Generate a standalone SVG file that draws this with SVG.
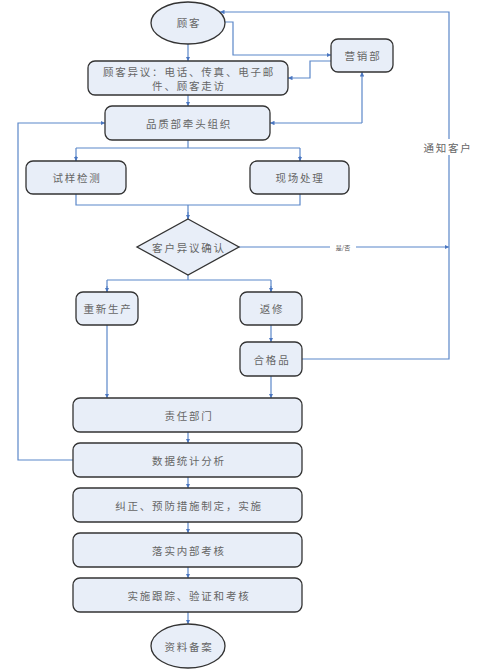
<svg xmlns="http://www.w3.org/2000/svg" width="482" height="671" viewBox="0 0 482 671">
<style>
.n{fill:#E8EEF8;stroke:#333;stroke-width:1.3}
.t{font-family:"Noto Sans CJK SC","Noto Sans",sans-serif;font-size:10.5px;fill:#666;letter-spacing:1.8px;text-anchor:middle;dominant-baseline:central}
.c{fill:none;stroke:#5B87C9;stroke-width:1.2}
.cl{fill:none;stroke:#8FAEDB;stroke-width:1.5}
</style>
<defs>
<marker id="a" viewBox="0 0 8 8" refX="8" refY="4" markerWidth="4.5" markerHeight="4.5" orient="auto" markerUnits="userSpaceOnUse"><path d="M0,0L8,4L0,8z" fill="#4A76C0"/></marker>
</defs>
<rect width="482" height="671" fill="#fff"/>
<g id="connectors">
<path class="c" d="M188,44V61" marker-end="url(#a)"/>
<path class="c" d="M224,22H233V55H331" marker-end="url(#a)"/>
<path class="c" d="M331,61H310V78H288" marker-end="url(#a)"/>
<path class="c" d="M188,95V106" marker-end="url(#a)"/>
<path class="c" d="M362,123V72" marker-end="url(#a)"/>
<path class="c" d="M362,123H270" marker-end="url(#a)"/>
<path class="c" d="M188,140V148M76,148H300M76,148V161M300,148V161"/>
<path class="c" d="M76,156V161" marker-end="url(#a)"/>
<path class="c" d="M300,156V161" marker-end="url(#a)"/>
<path class="c" d="M76,194V205H300V194M188,205V219"/>
<path class="c" d="M188,212V219" marker-end="url(#a)"/>
<path class="cl" d="M239,247H449" marker-end="url(#a)"/>
<path class="c" d="M188,275V280M107,280H271M107,280V292M271,280V292"/>
<path class="c" d="M107,286V292" marker-end="url(#a)"/>
<path class="c" d="M271,286V292" marker-end="url(#a)"/>
<path class="c" d="M271,325V342" marker-end="url(#a)"/>
<path class="c" d="M302,359H449V12H220" marker-end="url(#a)"/>
<path class="c" d="M107,325V398" marker-end="url(#a)"/>
<path class="c" d="M271,376V398" marker-end="url(#a)"/>
<path class="c" d="M188,432V443" marker-end="url(#a)"/>
<path class="c" d="M73,460H18V123H105" marker-end="url(#a)"/>
<path class="c" d="M188,477V488" marker-end="url(#a)"/>
<path class="c" d="M188,522V533" marker-end="url(#a)"/>
<path class="c" d="M188,567V578" marker-end="url(#a)"/>
<path class="c" d="M188,612V624" marker-end="url(#a)"/>
<rect x="330" y="243" width="26" height="8" fill="#fff"/>
<text x="343" y="247.5" font-family="Noto Sans CJK SC,sans-serif" font-size="6" fill="#555" text-anchor="middle" dominant-baseline="central">是/否</text>
<rect x="421" y="139" width="52" height="16" fill="#fff"/>
<text class="t" x="448" y="147">通知客户</text>
</g>
<g id="guke"><ellipse class="n" cx="188" cy="23" rx="37" ry="21"/><text class="t" x="189" y="22">顾客</text></g>
<g id="yingxiao"><rect class="n" x="331" y="39" width="62" height="33" rx="7"/><text class="t" x="363" y="55">营销部</text></g>
<g id="yiyi"><rect class="n" x="88" y="61" width="200" height="34" rx="7"/><text class="t" x="189" y="71">顾客异议：电话、传真、电子邮</text><text class="t" x="189" y="85">件、顾客走访</text></g>
<g id="pinzhi"><rect class="n" x="105" y="106" width="165" height="34" rx="7"/><text class="t" x="189" y="123">品质部牵头组织</text></g>
<g id="shiyang"><rect class="n" x="26" y="161" width="100" height="33" rx="7"/><text class="t" x="77" y="177">试样检测</text></g>
<g id="xianchang"><rect class="n" x="250" y="161" width="99" height="33" rx="7"/><text class="t" x="300" y="177">现场处理</text></g>
<g id="queren"><path class="n" d="M188,219L239,247L188,275L137,247Z"/><text class="t" x="189" y="247">客户异议确认</text></g>
<g id="chongxin"><rect class="n" x="76" y="292" width="62" height="33" rx="7"/><text class="t" x="108" y="308">重新生产</text></g>
<g id="fanxiu"><rect class="n" x="240" y="292" width="62" height="33" rx="7"/><text class="t" x="272" y="308">返修</text></g>
<g id="hege"><rect class="n" x="240" y="342" width="62" height="34" rx="7"/><text class="t" x="272" y="359">合格品</text></g>
<g id="zeren"><rect class="n" x="73" y="398" width="229" height="34" rx="7"/><text class="t" x="189" y="415">责任部门</text></g>
<g id="shuju"><rect class="n" x="73" y="443" width="229" height="34" rx="7"/><text class="t" x="189" y="460">数据统计分析</text></g>
<g id="jiuzheng"><rect class="n" x="73" y="488" width="229" height="34" rx="7"/><text class="t" x="189" y="505">纠正、预防措施制定，实施</text></g>
<g id="luoshi"><rect class="n" x="73" y="533" width="229" height="34" rx="7"/><text class="t" x="189" y="550">落实内部考核</text></g>
<g id="genzong"><rect class="n" x="73" y="578" width="229" height="34" rx="7"/><text class="t" x="189" y="595">实施跟踪、验证和考核</text></g>
<g id="beian"><ellipse class="n" cx="188" cy="646" rx="37" ry="22"/><text class="t" x="189" y="646">资料备案</text></g>
</svg>
